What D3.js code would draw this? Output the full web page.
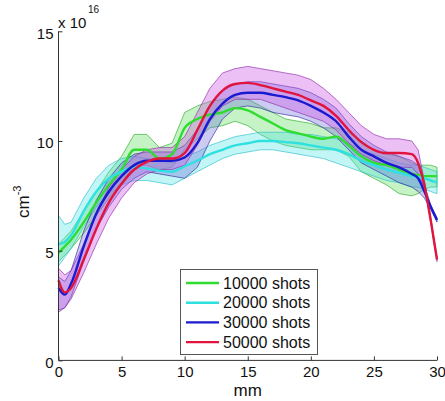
<!DOCTYPE html>
<html><head><meta charset="utf-8">
<script src="https://cdn.jsdelivr.net/npm/d3@7/dist/d3.min.js"></script>
<style>body{margin:0;background:#fff}svg{display:block;font-family:"Liberation Sans",Arial,sans-serif}</style>
</head><body>
<svg id="c" width="445" height="401"></svg>
<script>
const xs = [0,0.5,1,2,3,4,5,6,7,8,9,10,11,12,13,14,15,16,17,18,19,20,21,22,23,24,25,26,27,28,28.5,29,29.5,30];

const greenMean = [4.9,5.2,5.5,6.3,7.2,8.0,8.7,9.6,9.6,9.2,9.4,10.6,11.0,11.2,11.3,11.5,11.4,11.1,10.8,10.5,10.35,10.2,10.1,10.2,9.8,9.3,9.0,8.9,8.7,8.5,8.45,8.4,8.4,8.4];
const greenHi   = [5.3,5.6,5.9,6.8,7.7,8.6,9.3,10.3,10.3,9.7,9.9,11.3,11.6,11.8,11.9,12.0,11.9,11.6,11.3,11.0,10.9,10.8,10.6,10.6,10.4,10.0,9.6,9.4,9.3,9.0,8.9,8.9,8.9,8.8];
const greenLo   = [4.5,4.8,5.1,5.8,6.6,7.4,8.1,8.9,8.9,8.7,8.8,9.6,10.1,10.6,10.7,10.9,10.7,10.3,10.0,9.8,9.7,9.6,9.6,9.6,9.3,8.6,8.3,8.0,7.6,7.5,7.6,7.8,7.9,7.9];

const cyanMean = [5.3,5.4,5.7,6.8,7.7,8.3,8.6,8.8,8.75,8.65,8.6,8.85,9.1,9.4,9.6,9.8,9.9,10.0,10.0,9.95,9.9,9.8,9.7,9.6,9.4,9.1,8.9,8.7,8.55,8.4,8.35,8.3,8.2,8.1];
const cyanHi   = [6.6,6.2,6.3,7.4,8.3,8.9,9.2,9.3,9.2,9.1,9.0,9.3,9.5,9.8,10.0,10.2,10.3,10.4,10.4,10.4,10.3,10.3,10.2,10.1,9.9,9.6,9.4,9.2,9.0,8.9,8.9,8.8,8.7,8.6];
const cyanLo   = [4.3,4.7,5.1,6.1,7.0,7.6,8.0,8.2,8.2,8.1,8.0,8.3,8.6,8.9,9.2,9.4,9.5,9.6,9.6,9.5,9.4,9.3,9.2,9.0,8.8,8.6,8.4,8.2,8.1,7.9,7.9,7.8,7.7,7.6];

const blueMean = [3.3,3.0,3.5,5.2,6.7,7.7,8.4,8.9,9.1,9.1,9.1,9.25,9.9,11.0,11.7,12.1,12.2,12.2,12.1,12.0,11.85,11.6,11.3,10.9,10.2,9.6,9.3,9.0,8.8,8.5,8.3,7.7,7.0,6.4];
const blueHi   = [3.8,3.6,4.1,5.9,7.3,8.3,9.0,9.4,9.5,9.5,9.5,9.8,10.5,11.6,12.3,12.6,12.7,12.7,12.6,12.5,12.4,12.2,11.9,11.5,10.8,10.2,9.8,9.5,9.3,9.1,8.9,8.0,7.1,6.5];
const blueLo   = [2.3,2.4,2.9,4.5,6.0,7.0,7.8,8.3,8.6,8.5,8.4,8.3,8.8,10.0,11.0,11.5,11.6,11.5,11.3,11.2,11.1,10.9,10.6,10.2,9.6,9.0,8.7,8.4,8.1,7.9,7.7,7.4,6.9,6.3];

const redMean = [3.65,3.1,3.3,4.6,6.0,7.2,8.05,8.7,9.05,9.2,9.2,9.45,10.5,11.6,12.3,12.6,12.65,12.55,12.4,12.25,12.1,11.85,11.6,11.15,10.5,9.95,9.6,9.45,9.45,9.4,9.0,8.0,6.4,4.6];
const redHi   = [4.2,3.9,4.1,5.3,6.7,7.9,8.7,9.3,9.6,9.7,9.7,10.2,11.3,12.4,13.1,13.3,13.4,13.3,13.2,13.1,13.0,12.8,12.4,11.9,11.3,10.7,10.3,10.1,10.1,10.0,9.6,8.2,6.5,4.7];
const redLo   = [2.2,2.4,2.8,4.0,5.3,6.5,7.4,8.1,8.5,8.7,8.7,8.9,9.8,10.9,11.6,11.9,11.9,11.9,11.7,11.5,11.3,11.1,10.9,10.5,9.9,9.4,9.1,8.9,8.8,8.8,8.5,7.9,6.3,4.5];

const seriesNames = ["10000 shots","20000 shots","30000 shots","50000 shots"];
const xTicks = [0,5,10,15,20,25,30];
const yTicks = [0,5,10,15];

const series = [
  {name:seriesNames[0], mean:greenMean, hi:greenHi, lo:greenLo, line:"#2fdc2f", fill:"rgba(90,220,90,0.35)", edge:"rgba(40,170,40,0.8)"},
  {name:seriesNames[1], mean:cyanMean, hi:cyanHi, lo:cyanLo, line:"#2fe0e0", fill:"rgba(80,225,225,0.35)", edge:"rgba(40,190,200,0.8)"},
  {name:seriesNames[2], mean:blueMean, hi:blueHi, lo:blueLo, line:"#1a1ad0", fill:"rgba(110,110,220,0.35)", edge:"rgba(40,40,150,0.8)"},
  {name:seriesNames[3], mean:redMean, hi:redHi, lo:redLo, line:"#e0143c", fill:"rgba(205,90,225,0.38)", edge:"rgba(140,40,170,0.8)"}
];

const svg = d3.select("#c");
const x = d3.scaleLinear().domain([0,30]).range([58.5,437]);
const y = d3.scaleLinear().domain([0,15]).range([360.4,31.3]);

const gBands = svg.append("g");
const gLines = svg.append("g");
series.forEach(s=>{
  const pts = xs.map((xv,i)=>({x:xv, m:s.mean[i], h:s.hi[i], l:s.lo[i]}));
  gBands.append("path").datum(pts)
    .attr("d", d3.area().x(d=>x(d.x)).y0(d=>y(d.l)).y1(d=>y(d.h)).curve(d3.curveLinear))
    .attr("fill", s.fill).attr("stroke", s.edge).attr("stroke-width",0.8);
});
series.forEach(s=>{
  const pts = xs.map((xv,i)=>({x:xv, m:s.mean[i]}));
  gLines.append("path").datum(pts)
    .attr("d", d3.line().x(d=>x(d.x)).y(d=>y(d.m)).curve(d3.curveMonotoneX))
    .attr("fill","none").attr("stroke", s.line).attr("stroke-width",2.4);
});

// axes
const xAxis = d3.axisBottom(x).tickValues(xTicks).tickSize(-4).tickFormat(d3.format("d"));
const gx = svg.append("g").attr("transform",`translate(0,${y(0)})`).call(xAxis);
gx.select(".domain").attr("stroke","#333").attr("d",`M${x(0)},0H${x(30)}`);
gx.selectAll(".tick line").attr("stroke","#333");
gx.selectAll(".tick text").attr("font-size",15).attr("fill","#111").attr("y",6).attr("dy","0.71em").attr("font-family","Liberation Sans, Arial, sans-serif");

const yAxis = d3.axisLeft(y).tickValues(yTicks).tickSize(-4).tickFormat(d3.format("d"));
const gy = svg.append("g").attr("transform",`translate(${x(0)},0)`).call(yAxis);
gy.select(".domain").attr("stroke","#333").attr("d",`M0,${y(15)}V${y(0)}`);
gy.selectAll(".tick line").attr("stroke","#333");
gy.selectAll(".tick text").attr("font-size",15).attr("fill","#111").attr("x",-5).attr("dy","0.45em").attr("font-family","Liberation Sans, Arial, sans-serif");

// exponent
svg.append("text").attr("x",58).attr("y",28).attr("font-size",15).attr("fill","#111").text("x 10");
svg.append("text").attr("x",88).attr("y",13).attr("font-size",10).attr("fill","#111").text("16");

// axis labels
svg.append("text").attr("x",x(15)).attr("y",396).attr("text-anchor","middle").attr("font-size",17).attr("fill","#111").text("mm");
const yl = svg.append("text").attr("transform","translate(29,218) rotate(-90)").attr("font-size",17).attr("fill","#111");
yl.append("tspan").text("cm");
yl.append("tspan").attr("font-size",11).attr("dy",-8).text("-3");

// legend
const lg = svg.append("g");
lg.append("rect").attr("x",180.5).attr("y",269.5).attr("width",137).attr("height",85)
  .attr("fill","#fff").attr("stroke","#555").attr("stroke-width",1);
series.forEach((s,i)=>{
  const yy = 283 + i*19.7;
  lg.append("line").attr("x1",186).attr("x2",219).attr("y1",yy).attr("y2",yy).attr("stroke",s.line).attr("stroke-width",2.4);
  lg.append("text").attr("x",223).attr("y",yy).attr("dy","0.36em").attr("font-size",16).attr("fill","#111").text(s.name);
});
</script>
</body></html>
